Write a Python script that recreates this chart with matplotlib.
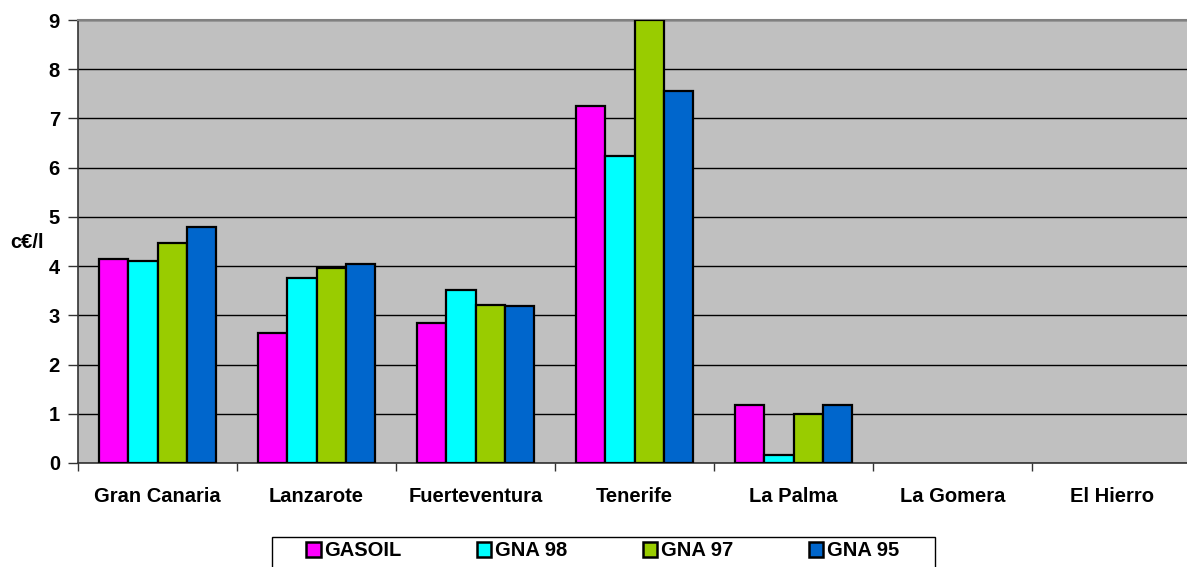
import matplotlib
matplotlib.use("Agg")
import numpy as np
import matplotlib.pyplot as plt
from matplotlib.patches import Patch, Rectangle

plt.rcParams["font.family"] = ["Liberation Sans", "DejaVu Sans"]
plt.rcParams["font.weight"] = "bold"

islands = ["Gran Canaria", "Lanzarote", "Fuerteventura", "Tenerife",
           "La Palma", "La Gomera", "El Hierro"]
series_names = ["GASOIL", "GNA 98", "GNA 97", "GNA 95"]
gasoil = [4.15, 2.65, 2.85, 7.26, 1.17, 0, 0]
gna98 = [4.11, 3.75, 3.51, 6.24, 0.17, 0, 0]
gna97 = [4.47, 3.96, 3.22, 9.00, 1.00, 0, 0]
gna95 = [4.80, 4.05, 3.19, 7.56, 1.17, 0, 0]
colors = ["#FF00FF", "#00FFFF", "#99CC00", "#0066CC"]

W, H = 1187, 567
fs = 14.5
fig = plt.figure(figsize=(W / 100, H / 100), dpi=100)
ax = fig.add_axes([78 / W, 1 - 463 / H, 1113 / W, 443 / H])
ax.set_facecolor("#C0C0C0")

x = np.arange(len(islands))
bw = 0.183
for i, (vals, c) in enumerate(zip([gasoil, gna98, gna97, gna95], colors)):
    vals = np.array(vals)
    # empty islands get no bar outline
    lw = np.where(vals > 0, 1.6, 0)
    ax.bar(x + (i - 1.5) * bw, vals, bw, color=c, edgecolor="black",
           linewidth=lw, zorder=3)

ax.set_xlim(-0.5, len(islands) - 0.5)
ax.set_ylim(0, 9)
ax.set_yticks(range(10))
ax.yaxis.grid(True, color="black", linewidth=1, zorder=1)
ax.set_axisbelow(True)

ax.set_xticks(x)
ax.set_xticklabels(islands, fontsize=fs, fontweight="bold")
ax.set_xticks(np.arange(len(islands) + 1) - 0.5, minor=True)
ax.tick_params(axis="x", which="major", length=0, pad=17)
ax.tick_params(axis="x", which="minor", length=6, width=1, color="#333333")
ax.tick_params(axis="y", length=7, width=1, labelsize=fs, pad=6, color="#333333")
for lbl in ax.get_yticklabels():
    lbl.set_fontweight("bold")

for side in ["left", "bottom"]:
    ax.spines[side].set_color("#333333")
    ax.spines[side].set_linewidth(1.2)
ax.spines["top"].set_color("#808080")
ax.spines["top"].set_linewidth(1.5)
ax.spines["right"].set_visible(False)

fig.text(10 / W, 1 - 242 / H, "c€/l", fontsize=fs, fontweight="bold",
         ha="left", va="center")

# legend box, open at the bottom edge of the figure
fig.add_artist(Rectangle((272 / W, -0.02), (935 - 272) / W, 0.02 + 30 / H,
                         transform=fig.transFigure, facecolor="white",
                         edgecolor="black", linewidth=1))
handles = [Patch(facecolor=c, edgecolor="black", linewidth=1.8) for c in colors]
leg = fig.legend(handles, series_names, loc="center", ncol=4,
                 bbox_to_anchor=(603 / W, 1 - 551 / H), frameon=False,
                 fontsize=fs, handlelength=0.7, handleheight=0.7,
                 handletextpad=0.2, columnspacing=3.75, borderpad=0,
                 borderaxespad=0)
for t in leg.get_texts():
    t.set_fontweight("bold")

fig.savefig("out.png", dpi=100)
